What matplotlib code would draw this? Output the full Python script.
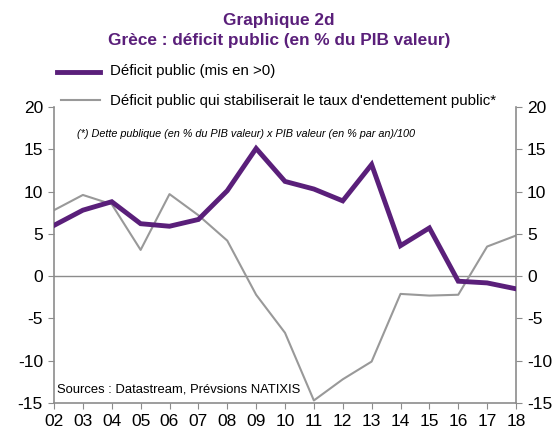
import matplotlib.pyplot as plt

plt.rcParams['font.family'] = ['Liberation Sans', 'DejaVu Sans']

# Data
years = ["02", "03", "04", "05", "06", "07", "08", "09", "10",
         "11", "12", "13", "14", "15", "16", "17", "18"]
deficit = [6.0, 7.8, 8.8, 6.2, 5.9, 6.7, 10.1, 15.1, 11.2,
           10.3, 8.9, 13.2, 3.6, 5.7, -0.6, -0.8, -1.5]
deficit_stab = [7.8, 9.6, 8.5, 3.1, 9.7, 7.2, 4.2, -2.2, -6.7,
                -14.7, -12.2, -10.1, -2.1, -2.3, -2.2, 3.5, 4.8]
yticks = [-15, -10, -5, 0, 5, 10, 15, 20]

purple = "#5A1F7A"
gray = "#999999"
spine_gray = "#8C8C8C"

fig = plt.figure(figsize=(5.55, 4.32), dpi=100)
ax = fig.add_axes([54 / 555, 29 / 432, 462 / 555, 296 / 432])

x = list(range(len(years)))
ax.axhline(0, color=spine_gray, lw=1.0, zorder=1)
ax.plot(x, deficit_stab, color=gray, lw=1.5, zorder=2)
ax.plot(x, deficit, color=purple, lw=3.5, zorder=3, solid_joinstyle="miter")

ax.set_xlim(0, len(years) - 1)
ax.set_ylim(-15, 20)
ax.set_xticks(x)
ax.set_xticklabels(years, fontsize=12.5)
ax.set_yticks(yticks)
ax.set_yticklabels([str(v) for v in yticks], fontsize=12.5)

ax.spines["top"].set_visible(False)
for side in ["left", "right", "bottom"]:
    ax.spines[side].set_color(spine_gray)
    ax.spines[side].set_linewidth(1.2)

ax.tick_params(axis="y", which="both", left=True, right=True,
               labelleft=True, labelright=True, direction="out",
               length=4, color=spine_gray, pad=4)
ax.tick_params(axis="x", direction="out", length=4, color=spine_gray, pad=4)

# Title
fig.text(279 / 555, 1 - 20 / 432, "Graphique 2d", ha="center", va="center",
         fontsize=12.4, fontweight="bold", color=purple)
fig.text(279 / 555, 1 - 40 / 432, "Grèce : déficit public (en % du PIB valeur)",
         ha="center", va="center", fontsize=12.4, fontweight="bold", color=purple)

# Legend (drawn manually to match placement)
fig.add_artist(plt.Line2D([57 / 555, 100 / 555], [1 - 72 / 432, 1 - 72 / 432],
                          color=purple, lw=3.5))
fig.text(110 / 555, 1 - 71 / 432, "Déficit public (mis en >0)", ha="left",
         va="center", fontsize=10.8)
fig.add_artist(plt.Line2D([61 / 555, 100 / 555], [1 - 100 / 432, 1 - 100 / 432],
                          color=gray, lw=1.5))
fig.text(110 / 555, 1 - 101 / 432,
         "Déficit public qui stabiliserait le taux d'endettement public*",
         ha="left", va="center", fontsize=10.8)

# Notes
fig.text(77 / 555, 1 - 134 / 432,
         "(*) Dette publique (en % du PIB valeur) x PIB valeur (en % par an)/100",
         ha="left", va="center", fontsize=7.8, style="italic")
fig.text(57 / 555, 1 - 389 / 432, "Sources : Datastream, Prévsions NATIXIS",
         ha="left", va="center", fontsize=9.4)

fig.savefig("out.png", dpi=100)
